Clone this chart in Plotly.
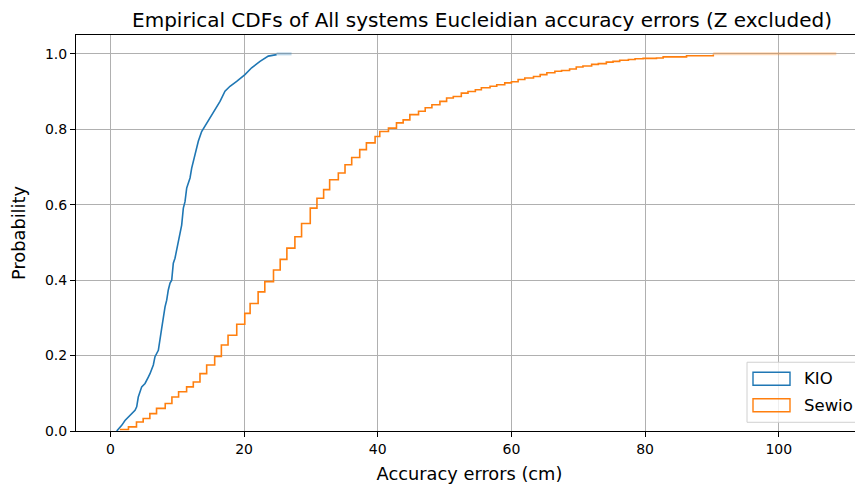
import plotly.graph_objects as go

# ---- data ----
kio_x = [0.94, 1.69, 2.18, 2.93, 3.68, 3.93, 4.17, 4.68, 5.18, 5.67, 5.92, 6.42, 6.67, 7.17, 7.42,
         7.67, 8.17, 8.42, 8.66, 8.92, 9.17, 9.41, 9.66, 10.16, 10.66, 10.91, 11.16, 11.41, 11.91,
         12.16, 12.66, 13.15, 13.65, 14.15, 14.9, 15.65, 16.4, 17.14, 17.89, 18.89, 20.13, 21.13,
         22.38, 23.62, 24.87]
kio_p = [0.0, 0.015, 0.028, 0.042, 0.055, 0.064, 0.090, 0.117, 0.126, 0.143, 0.152, 0.175, 0.197,
         0.214, 0.250, 0.272, 0.329, 0.347, 0.374, 0.392, 0.400, 0.445, 0.458, 0.502, 0.546, 0.591,
         0.608, 0.644, 0.671, 0.697, 0.737, 0.768, 0.794, 0.808, 0.830, 0.852, 0.874, 0.901, 0.914,
         0.927, 0.945, 0.963, 0.980, 0.994, 0.998]
kio_max = 27.1

sewio_x = [1.4, 2.7, 3.9, 4.9, 5.9, 6.9, 8.2, 9.2, 10.2, 11.4, 12.4, 13.4, 14.4, 15.6, 16.6, 17.6,
           18.9, 20.1, 20.9, 22.1, 23.1, 24.4, 25.4, 26.4, 27.6, 28.6, 29.9, 30.9, 31.9, 32.8, 34.1,
           35.1, 36.1, 37.3, 38.3, 39.6, 40.3, 41.6, 42.8, 43.8, 44.8, 46.1, 47.1, 48.1, 49.3, 50.3,
           51.3, 52.5, 53.5, 54.6, 55.5, 56.8, 57.8, 59.0, 60.0, 61.0, 62.0, 63.3, 64.3, 65.3, 66.5,
           67.5, 68.7, 69.7, 70.7, 72.0, 73.0, 74.2, 75.2, 76.2, 77.5, 78.5, 79.7, 81.7, 82.7, 86.2, 90.2]
sewio_p = [0.004, 0.011, 0.024, 0.033, 0.046, 0.060, 0.073, 0.090, 0.104, 0.117, 0.130, 0.152, 0.175,
           0.198, 0.228, 0.254, 0.283, 0.312, 0.338, 0.369, 0.396, 0.427, 0.455, 0.485, 0.515, 0.550,
           0.591, 0.617, 0.640, 0.666, 0.684, 0.706, 0.725, 0.746, 0.764, 0.781, 0.794, 0.803, 0.817,
           0.825, 0.839, 0.848, 0.857, 0.865, 0.874, 0.883, 0.887, 0.896, 0.900, 0.905, 0.910, 0.914,
           0.918, 0.923, 0.926, 0.932, 0.936, 0.940, 0.945, 0.950, 0.954, 0.956, 0.960, 0.965, 0.968,
           0.972, 0.974, 0.978, 0.980, 0.983, 0.985, 0.987, 0.988, 0.989, 0.992, 0.995, 0.998]
sewio_max = 108.6

x_ticks = [0, 20, 40, 60, 80, 100]
y_ticks = [0.0, 0.2, 0.4, 0.6, 0.8, 1.0]
series_names = ["KIO", "Sewio"]
colors = ["#1f77b4", "#ff7f0e"]

title = "Empirical CDFs of All systems Eucleidian accuracy errors (Z excluded)"
x_title = "Accuracy errors (cm)"
y_title = "Probability"

FONT = "DejaVu Sans"
OFF = 8  # page body margin
W, H = 863 - OFF, 485 - OFF
L, R, T = 76 - OFF, 0, 35 - OFF
B = H - (430.7 - OFF)

fig = go.Figure()
fig.add_trace(go.Scatter(x=kio_x, y=kio_p, mode="lines", line=dict(color=colors[0], width=1.6),
                         showlegend=False, hoverinfo="skip"))
fig.add_trace(go.Scatter(x=[kio_x[-1], kio_max], y=[1.0, 1.0], mode="lines", opacity=0.3,
                         line=dict(color=colors[0], width=3), showlegend=False, hoverinfo="skip"))
fig.add_trace(go.Scatter(x=sewio_x, y=sewio_p, mode="lines", line=dict(color=colors[1], width=1.6, shape="hv"),
                         showlegend=False, hoverinfo="skip"))
fig.add_trace(go.Scatter(x=[sewio_x[-1], sewio_max], y=[1.0, 1.0], mode="lines", opacity=0.3,
                         line=dict(color=colors[1], width=3), showlegend=False, hoverinfo="skip"))

pw, ph = W - L - R, H - T - B


def px_x(p):  # page pixel -> paper
    return (p - OFF - L) / pw


def px_y(p):
    return (H - B - (p - OFF)) / ph


shapes = [
    dict(type="rect", xref="paper", yref="paper", x0=px_x(747), x1=px_x(858), y0=px_y(422), y1=px_y(362),
         line=dict(color="#d0d0d0", width=1), fillcolor="rgba(255,255,255,0.8)", layer="above"),
]
annotations = []
for name, c, cy in zip(series_names, colors, [378.5, 405]):
    shapes.append(dict(type="rect", xref="paper", yref="paper", x0=px_x(753), x1=px_x(790),
                       y0=px_y(cy + 6.5), y1=px_y(cy - 6.5), line=dict(color=c, width=1.4),
                       fillcolor="rgba(0,0,0,0)", layer="above"))
    annotations.append(dict(text=name, xref="paper", yref="paper", x=px_x(802), y=px_y(cy),
                            xanchor="left", yanchor="middle", showarrow=False,
                            font=dict(family=FONT, size=16.5, color="black")))

fig.update_layout(
    width=W, height=H,
    margin=dict(l=L, r=R, t=T, b=B),
    plot_bgcolor="white", paper_bgcolor="white",
    font=dict(family=FONT, size=14, color="black"),
    title=dict(text=title, x=px_x(482), xref="paper", xanchor="center", y=1 - (19.5 - OFF) / H,
               yanchor="middle", font=dict(family=FONT, size=20, color="black")),
    shapes=shapes, annotations=annotations,
    showlegend=False,
)
fig.update_xaxes(range=[-5.15, 112.6], tickvals=x_ticks, ticks="outside", ticklen=5, tickcolor="black",
                 showline=True, linecolor="black", linewidth=1.1, mirror=True,
                 showgrid=True, gridcolor="#b0b0b0", gridwidth=1.1, zeroline=False,
                 title=dict(text=x_title, standoff=11, font=dict(size=17.8)), tickfont=dict(size=14))
fig.update_yaxes(range=[0, 1.05], tickvals=y_ticks, tickformat=".1f", ticks="outside", ticklen=5,
                 tickcolor="black", showline=True, linecolor="black", linewidth=1.1,
                 showgrid=True, gridcolor="#b0b0b0", gridwidth=1.1, zeroline=False,
                 title=dict(text=y_title, standoff=14, font=dict(size=17.8)), tickfont=dict(size=14))

fig.write_html("out.html")
